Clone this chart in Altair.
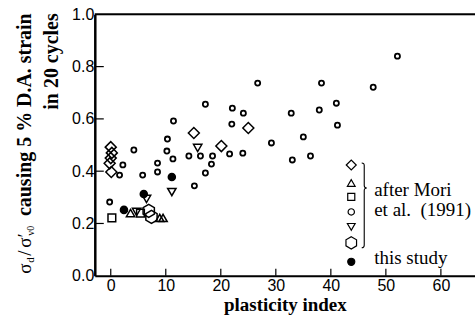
import altair as alt
import pandas as pd

# ---- data ----
DIAMOND_X = [0.0, 0.2, 0.0, -0.2, 0.1, 15.1, 20.1, 25.0]
DIAMOND_Y = [0.492, 0.470, 0.450, 0.430, 0.397, 0.546, 0.496, 0.565]

TRIUP_X = [3.6, 8.9, 9.5]
TRIUP_Y = [0.240, 0.221, 0.221]

SQUARE_X = [0.2, 5.4]
SQUARE_Y = [0.221, 0.240]

TRIDOWN_X = [4.7, 6.5, 11.1, 15.8]
TRIDOWN_Y = [0.244, 0.294, 0.320, 0.489]

HEX_X = [6.9, 7.4]
HEX_Y = [0.248, 0.225]

THIS_X = [2.4, 6.0, 11.1]
THIS_Y = [0.252, 0.313, 0.378]

CIRCLE_X = [-0.2, 1.6, 2.2, 4.2, 5.8, 8.5, 8.5, 10.3, 10.2, 11.3, 11.4, 14.2,
            16.3, 18.5, 18.3, 17.2, 15.2, 21.6, 24.0, 17.2, 22.1, 24.1, 22.0,
            26.7, 29.2, 32.8, 33.0, 35.0, 36.3, 37.9, 38.3, 41.0, 41.2, 47.7, 52.1]
CIRCLE_Y = [0.282, 0.385, 0.424, 0.481, 0.385, 0.397, 0.431, 0.523, 0.477, 0.447,
            0.592, 0.458, 0.458, 0.458, 0.427, 0.393, 0.344, 0.466, 0.469, 0.656,
            0.641, 0.622, 0.580, 0.737, 0.508, 0.622, 0.443, 0.531, 0.458, 0.634,
            0.737, 0.660, 0.576, 0.721, 0.840]

X_TICKS = [0, 10, 20, 30, 40, 50, 60]
Y_TICKS = [0.0, 0.2, 0.4, 0.6, 0.8, 1.0]

HEX = "M0,-1L0.866,-0.5L0.866,0.5L0,1L-0.866,0.5L-0.866,-0.5Z"
SERIES = [
    # (x, y, shape, size, fill, legend size, stroke width)
    (DIAMOND_X, DIAMOND_Y, "diamond", 121, "transparent", 100, 1.5),
    (TRIUP_X, TRIUP_Y, "triangle-up", 70, "transparent", 60, 1.5),
    (SQUARE_X, SQUARE_Y, "square", 60, "transparent", 50, 1.5),
    (CIRCLE_X, CIRCLE_Y, "circle", 26, "transparent", 40, 1.8),
    (TRIDOWN_X, TRIDOWN_Y, "triangle-down", 70, "transparent", 60, 1.5),
    (HEX_X, HEX_Y, HEX, 170, "transparent", 150, 1.5),
    (THIS_X, THIS_Y, "circle", 50, "black", 50, 1.5),
]

W, H = 381, 262
SERIF = "Liberation Serif"
SANS = "Liberation Sans"

xscale = alt.Scale(domain=[-2.9, 66.2], nice=False, zero=False)
yscale = alt.Scale(domain=[0, 1], nice=False)

xaxis = alt.Axis(values=X_TICKS, title="plasticity index", ticks=False,
                 labelFont=SANS, labelFontSize=16, labelColor="black",
                 labelPadding=2, domainColor="black", domainWidth=2,
                 titleFont=SERIF, titleFontSize=19, titleFontWeight="bold",
                 titleColor="black", titlePadding=2, grid=False)
yaxis = alt.Axis(values=Y_TICKS, format=".1f", title=None, ticks=False,
                 labelFont=SANS, labelFontSize=16, labelColor="black",
                 labelPadding=1, domainColor="black", domainWidth=2.5, grid=False)

layers = []
for xs, ys, shp, sz, fl, _, sw in SERIES:
    d = pd.DataFrame({"pi": xs, "ratio": ys})
    layers.append(alt.Chart(d).mark_point(shape=shp, size=sz, fill=fl, filled=False,
                                          stroke="black", strokeWidth=sw, opacity=1)
                  .encode(x=alt.X("pi:Q", scale=xscale, axis=xaxis),
                          y=alt.Y("ratio:Q", scale=yscale, axis=yaxis)))

ytick_df = pd.DataFrame({"ratio": Y_TICKS[1:-1]})
layers.append(alt.Chart(ytick_df).mark_rule(color="black", strokeWidth=1.2).encode(
    y=alt.Y("ratio:Q", scale=yscale, axis=yaxis), x=alt.value(0), x2=alt.value(9)))
xtick_df = pd.DataFrame({"pi": X_TICKS})
layers.append(alt.Chart(xtick_df).mark_rule(color="black", strokeWidth=1.2).encode(
    x=alt.X("pi:Q", scale=xscale, axis=xaxis), y=alt.value(H), y2=alt.value(H - 7)))

one = pd.DataFrame({"a": [0]})
layers.append(alt.Chart(one).mark_rule(color="black", strokeWidth=2).encode(
    y=alt.value(0), x=alt.value(0), x2=alt.value(W)))

# legend symbols
LEG_Y = [151, 169, 183, 198, 213, 229, 248]
for (xs, ys, shp, sz, fl, lsz, sw), ly in zip(SERIES, LEG_Y):
    layers.append(alt.Chart(one).mark_point(shape=shp, size=lsz, fill=fl, stroke="black",
                                            strokeWidth=1.2, opacity=1, filled=False)
                  .encode(x=alt.value(257), y=alt.value(ly)))

BRACE = ("M-0.06,-1Q0,-1 0,-0.94L0,-0.47Q0,-0.41 0.06,-0.41"
         "Q0,-0.41 0,-0.35L0,0.94Q0,1 -0.06,1")
layers.append(alt.Chart(one).mark_point(shape=BRACE, size=7225, filled=False,
                                        stroke="black", strokeWidth=1.1, opacity=1)
              .encode(x=alt.value(270), y=alt.value(191.5)))

LEG_TEXT = ["after Mori", "et al.\u00a0\u00a0(1991)", "this study"]
LEG_TEXT_Y = [176, 196, 244]
for t, ty in zip(LEG_TEXT, LEG_TEXT_Y):
    layers.append(alt.Chart(one).mark_text(text=t, font=SERIF, fontSize=19, align="left",
                                           baseline="middle", color="black")
                  .encode(x=alt.value(280), y=alt.value(ty)))

# rotated y title
def rtext(t, x, y, size, weight="normal", align="left"):
    return alt.Chart(one).mark_text(text=t, font=SERIF, fontSize=size, fontWeight=weight,
                                    angle=270, align=align, baseline="middle",
                                    color="black").encode(x=alt.value(x), y=alt.value(y))

layers += [
    rtext("σ", -70, 260, 19),
    rtext("d", -64, 249, 11),
    rtext("/", -70, 242, 19),
    rtext("σ′", -70, 234, 19),
    rtext("v0", -64, 222, 10),
    rtext("causing 5 % D.A. strain", -70, -1, 20, "bold", align="right"),
    rtext("in 20 cycles", -43, -1, 20, "bold", align="right"),
]

chart = alt.layer(*layers).properties(
    width=W, height=H,
    autosize=alt.AutoSizeParams(type="none"),
    padding={"left": 95, "top": 14, "right": 0, "bottom": 49},
).configure_view(stroke=None).configure(background="white")

chart.save("out.html", embed_options={"renderer": "svg", "actions": False})
